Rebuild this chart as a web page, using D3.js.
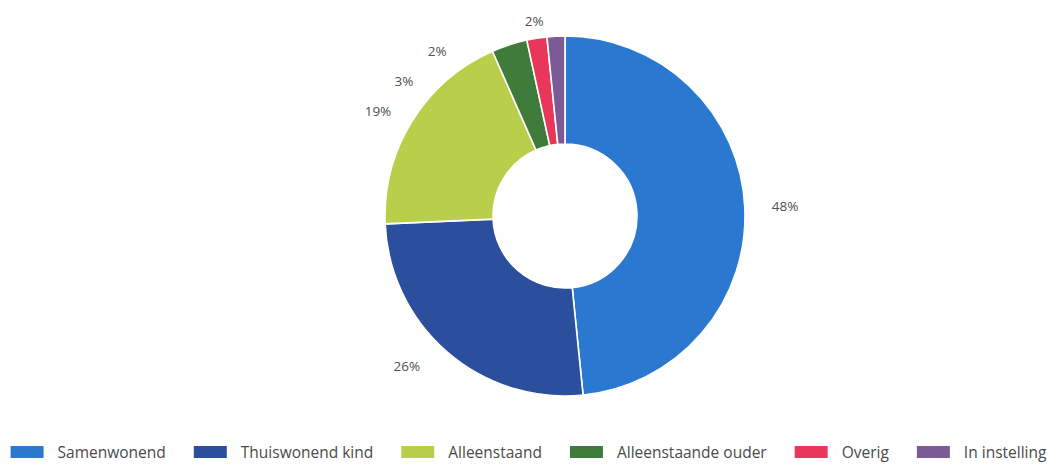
<!DOCTYPE html>
<html>
<head>
<meta charset="utf-8">
<script src="https://cdn.jsdelivr.net/npm/d3@7"></script>
<style>
  html, body { margin: 0; padding: 0; background: #ffffff; }
  svg { display: block; }
</style>
</head>
<body>
<svg id="chart" width="1057" height="467"></svg>
<script>
// ---- data ----
const categories = ["Samenwonend", "Thuiswonend kind", "Alleenstaand", "Alleenstaande ouder", "Overig", "In instelling"];
const shares = [48.4, 25.9, 19.1, 3.2, 1.8, 1.6];
const labels = ["48%", "26%", "19%", "3%", "2%", "2%"];
const colors = ["#2a78d0", "#2b4f9c", "#b9cf4b", "#3f7c3c", "#e8375a", "#7b5a95"];

// ---- layout (not data) ----
const W = 1057, H = 467;
const cx = 565, cy = 216, outerR = 180, innerR = 72;
const labelR = 203, labelGap = 30, labelTop = 21;
const labelNudge = { "Thuiswonend kind": [-12, -4], "In instelling": [35, 0] };

const svg = d3.select("#chart");
const data = categories.map((c, i) => ({ cat: c, value: shares[i], label: labels[i], color: colors[i] }));

const pie = d3.pie().value(d => d.value).sort(null);
const arcs = pie(data);
const arc = d3.arc().innerRadius(innerR).outerRadius(outerR);

const g = svg.append("g").attr("transform", `translate(${cx},${cy})`);
g.selectAll("path").data(arcs).enter().append("path")
  .attr("d", arc)
  .attr("fill", d => d.data.color)
  .attr("stroke", "#ffffff")
  .attr("stroke-width", 1.6)
  .attr("stroke-linejoin", "round");

// ---- data labels ----
const lab = arcs.map(a => {
  const mid = (a.startAngle + a.endAngle) / 2;
  return { a, mid, left: Math.sin(mid) < 0, y: -labelR * Math.cos(mid) };
});
// spread left labels from the top downwards
const leftTop = lab.filter(l => l.left && l.y < 0).sort((p, q) => p.y - q.y);
let minY = labelTop - cy;
leftTop.forEach(l => { l.y = Math.max(l.y, minY); minY = l.y + labelGap; });

lab.forEach(l => {
  const dx = Math.sqrt(Math.max(0, labelR * labelR - l.y * l.y));
  l.x = l.left ? -dx : dx + 4;
  const n = labelNudge[l.a.data.cat];
  if (n) { l.x += n[0]; l.y += n[1]; }
});

g.selectAll("text.lbl").data(lab).enter().append("text")
  .attr("class", "lbl")
  .attr("x", d => d.x)
  .attr("y", d => d.y)
  .attr("dominant-baseline", "central")
  .attr("text-anchor", d => d.left ? "end" : "start")
  .attr("font-family", "'Open Sans', sans-serif")
  .attr("font-size", 13.5)
  .attr("fill", "#505050")
  .text(d => d.a.data.label);

// ---- legend ----
const sqW = 33, sqH = 12, sqGap = 14, itemGap = 28, legendY = 452;
const leg = svg.append("g");
const items = leg.selectAll("g.item").data(data).enter().append("g").attr("class", "item");
items.append("rect")
  .attr("width", sqW).attr("height", sqH)
  .attr("y", legendY - sqH / 2)
  .attr("fill", d => d.color);
items.append("text")
  .attr("x", sqW + sqGap)
  .attr("y", legendY)
  .attr("dominant-baseline", "central")
  .attr("font-family", "'Open Sans', sans-serif")
  .attr("font-size", 15.5)
  .attr("fill", "#4a4a4a")
  .text(d => d.cat);

let xpos = 0;
const widths = [];
items.each(function () {
  const tw = d3.select(this).select("text").node().getComputedTextLength();
  widths.push(sqW + sqGap + tw);
});
const total = d3.sum(widths) + itemGap * (widths.length - 1);
xpos = (W - total) / 2;
items.each(function (d, i) {
  d3.select(this).attr("transform", `translate(${xpos},0)`);
  xpos += widths[i] + itemGap;
});
</script>
</body>
</html>
